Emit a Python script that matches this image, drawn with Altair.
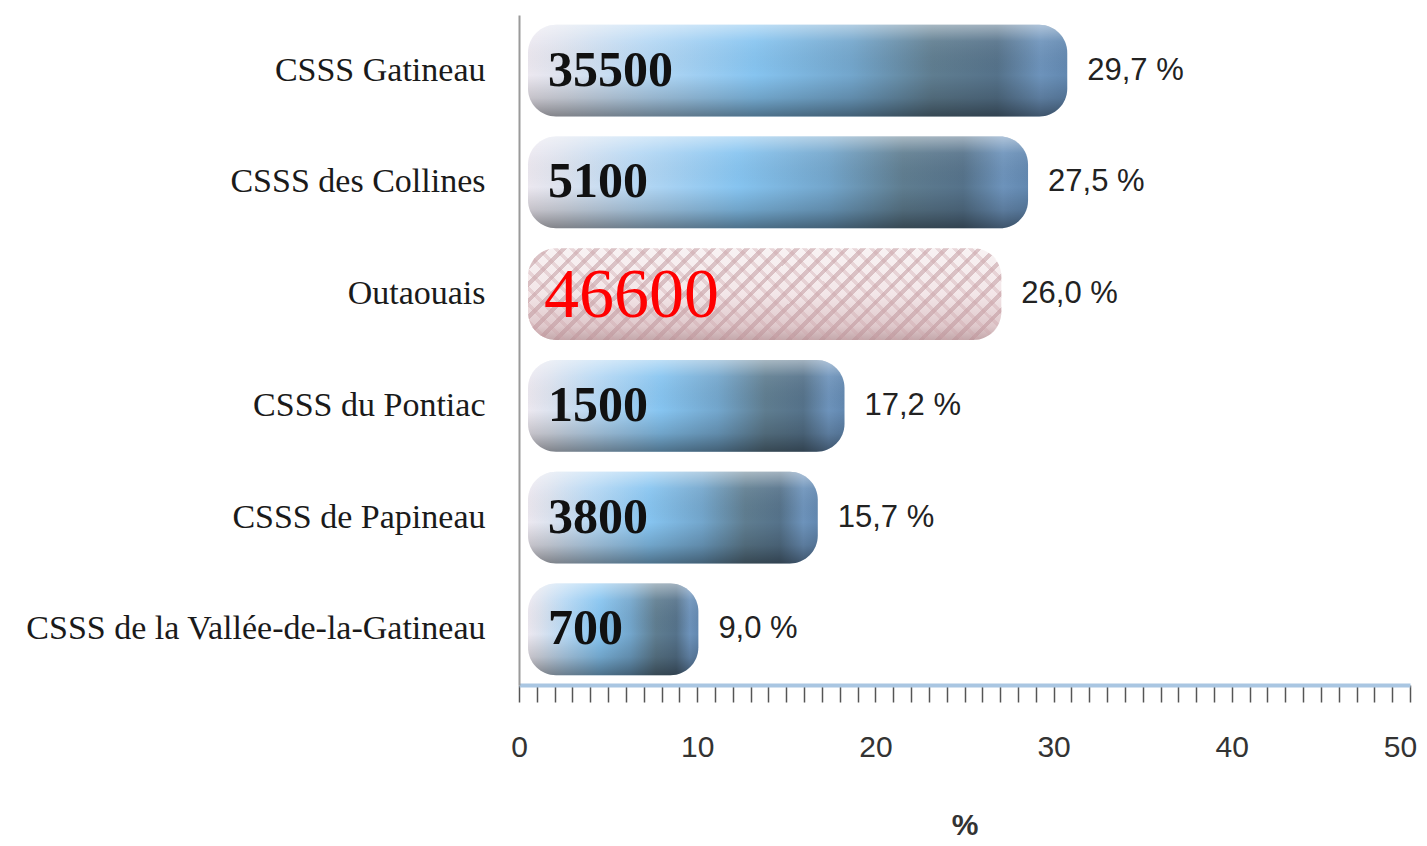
import altair as alt
import pandas as pd

categories = ["CSSS Gatineau", "CSSS des Collines", "Outaouais", "CSSS du Pontiac",
              "CSSS de Papineau", "CSSS de la Vallée-de-la-Gatineau"]
pct = [29.7, 27.5, 26.0, 17.2, 15.7, 9.0]
counts = [35500, 5100, 46600, 1500, 3800, 700]
tick_values = list(range(0, 51))

df = pd.DataFrame({
    "cat": categories,
    "pct": pct,
    "count": [str(c) for c in counts],
    "label": [f"{v:.1f}".replace(".", ",") + " %" for v in pct],
})

W, H = 891, 670
BAR_W_OUT, BAR_H = 473.0, 91.7


def grad(stops, x1=0, y1=0, x2=1, y2=0):
    return alt.Gradient(gradient="linear", x1=x1, y1=y1, x2=x2, y2=y2,
                        stops=[alt.GradientStop(offset=o, color=c) for o, c in stops])


def stripes(n, color, frac):
    clear = "rgba(255,255,255,0)"
    out = []
    for i in range(n):
        a, b, c = i / n, (i + frac) / n, (i + 1) / n
        out += [(a, color), (b, color), (b, clear), (c, clear)]
    return out


blue_h = grad([(0.0, "#ece8f0"), (0.07, "#dde3ef"), (0.22, "#b6d8f4"), (0.42, "#86c4f0"),
               (0.6, "#73a6cc"), (0.75, "#5f7d90"), (0.87, "#55728a"), (0.95, "#6d93bb"),
               (1.0, "#6288b0")])
shade_v = grad([(0.0, "rgba(255,255,255,0.45)"), (0.18, "rgba(255,255,255,0.08)"),
                (0.55, "rgba(0,0,0,0)"), (0.8, "rgba(0,0,0,0.16)"), (1.0, "rgba(0,0,0,0.42)")],
               x1=0, y1=0, x2=0, y2=1)
pink_v = grad([(0.0, "#f8f2f3"), (0.5, "#f3e6e8"), (0.85, "#dfc8cb"), (1.0, "#c4a8ab")],
              x1=0, y1=0, x2=0, y2=1)
r = BAR_H / BAR_W_OUT
k = (1 + r) / (1 + r * r)
hatch1 = grad(stripes(34, "rgba(185,140,146,0.45)", 0.35), x1=0, y1=0, x2=k, y2=k * r)
hatch2 = grad(stripes(34, "rgba(205,165,170,0.35)", 0.3), x1=0, y1=1, x2=k, y2=1 - k * r)

y_enc = alt.Y("cat:N", sort=categories,
              scale=alt.Scale(paddingInner=0.18, paddingOuter=0.087),
              axis=alt.Axis(title=None, ticks=False, tickSize=0, labelFont="Liberation Serif",
                            labelFontSize=34, labelColor="#1a1a1a", labelPadding=34,
                            domainColor="#9a9a9a", domainWidth=2, labelLimit=600))
x_enc = alt.X("pct:Q", scale=alt.Scale(domain=[0, 50], nice=False),
              axis=alt.Axis(title="%", values=tick_values, tickCount=100, labelOverlap=False,
                            format="d",
                            labelExpr="datum.value % 10 === 0 ? datum.label : ''",
                            labelOffset={"expr": "datum.value === 50 ? -10 : 0"},
                            labelFont="Liberation Sans", labelFontSize=30, labelColor="#333333",
                            labelPadding=30, tickSize=17, tickColor="#555555", tickWidth=1.5,
                            domainColor="#a9c6e2", domainWidth=4, grid=False,
                            titleFont="Liberation Sans", titleFontSize=30, titleFontWeight="bold",
                            titleColor="#333333", titlePadding=48, labelFlush=False))

base = alt.Chart(df)
bar_kw = dict(cornerRadius=28, xOffset=19, x2Offset=9)

not_out = "datum.cat !== 'Outaouais'"
is_out = "datum.cat === 'Outaouais'"

blue = base.transform_filter(not_out).mark_bar(fill=blue_h, **bar_kw).encode(
    y=y_enc, x=x_enc, x2=alt.datum(0))
blue_shade = base.transform_filter(not_out).mark_bar(fill=shade_v, **bar_kw).encode(
    y=y_enc, x=x_enc, x2=alt.datum(0))
pink = base.transform_filter(is_out).mark_bar(fill=pink_v, **bar_kw).encode(
    y=y_enc, x=x_enc, x2=alt.datum(0))
pink_h1 = base.transform_filter(is_out).mark_bar(fill=hatch1, **bar_kw).encode(
    y=y_enc, x=x_enc, x2=alt.datum(0))
pink_h2 = base.transform_filter(is_out).mark_bar(fill=hatch2, **bar_kw).encode(
    y=y_enc, x=x_enc, x2=alt.datum(0))

num_black = base.transform_filter(not_out).mark_text(
    align="left", baseline="middle", dx=29, font="Liberation Serif", fontSize=50,
    fontWeight="bold", color="#111111").encode(y=y_enc, x=alt.datum(0), text="count:N")
num_red = base.transform_filter(is_out).mark_text(
    align="left", baseline="middle", dx=25, dy=2, font="Liberation Serif", fontSize=70,
    color="#ff0000").encode(y=y_enc, x=alt.datum(0), text="count:N")
pct_text = base.mark_text(
    align="left", baseline="middle", dx=39, font="Liberation Sans", fontSize=31,
    color="#222222").encode(y=y_enc, x=x_enc, text="label:N")

chart = alt.layer(blue, blue_shade, pink, pink_h1, pink_h2, num_black, num_red, pct_text).properties(
    width=W, height=H,
    autosize=alt.AutoSizeParams(type="none"),
    padding={"left": 511, "top": 7, "right": 8, "bottom": 160},
    background="white",
).configure_view(stroke=None)

chart.save("out.html", embed_options={"renderer": "svg", "actions": False})
